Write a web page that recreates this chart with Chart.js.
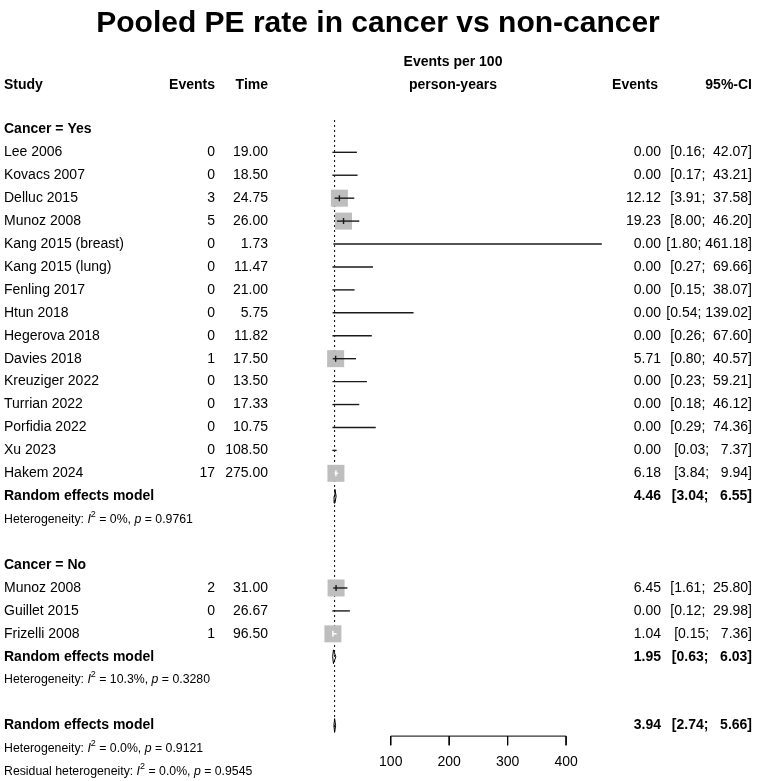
<!DOCTYPE html>
<html><head><meta charset="utf-8">
<script src="https://cdn.jsdelivr.net/npm/chart.js@4"></script>
<style>html,body{margin:0;padding:0;background:#fff}canvas{display:block}</style>
</head><body>
<canvas id="c" width="757" height="781"></canvas>
<script>
const chartTitle = "Pooled PE rate in cancer vs non-cancer";
// Cancer = Yes
const studiesYes = ["Lee 2006","Kovacs 2007","Delluc 2015","Munoz 2008","Kang 2015 (breast)","Kang 2015 (lung)","Fenling 2017","Htun 2018","Hegerova 2018","Davies 2018","Kreuziger 2022","Turrian 2022","Porfidia 2022","Xu 2023","Hakem 2024"];
const eventsYes = [0,0,3,5,0,0,0,0,0,1,0,0,0,0,17];
const timeYes = [19.00,18.50,24.75,26.00,1.73,11.47,21.00,5.75,11.82,17.50,13.50,17.33,10.75,108.50,275.00];
const rateYes = [0.00,0.00,12.12,19.23,0.00,0.00,0.00,0.00,0.00,5.71,0.00,0.00,0.00,0.00,6.18];
const lowerYes = [0.16,0.17,3.91,8.00,1.80,0.27,0.15,0.54,0.26,0.80,0.23,0.18,0.29,0.03,3.84];
const upperYes = [42.07,43.21,37.58,46.20,461.18,69.66,38.07,139.02,67.60,40.57,59.21,46.12,74.36,7.37,9.94];
// Cancer = No
const studiesNo = ["Munoz 2008","Guillet 2015","Frizelli 2008"];
const eventsNo = [2,0,1];
const timeNo = [31.00,26.67,96.50];
const rateNo = [6.45,0.00,1.04];
const lowerNo = [1.61,0.12,0.15];
const upperNo = [25.80,29.98,7.36];
// Pooled estimates [estimate, lower, upper]
const pooledYes = [4.46,3.04,6.55];
const pooledNo = [1.95,0.63,6.03];
const pooledAll = [3.94,2.74,5.66];
const hetYes = ["0%","0.9761"];
const hetNo = ["10.3%","0.3280"];
const hetAll = ["0.0%","0.9121"];
const hetResidual = ["0.0%","0.9545"];
const axisTicks = [100,200,300,400];

// row layout
const rowsYes = studiesYes.map((_, i) => i);
const rowYesPooled = studiesYes.length;           // 15
const rowNoStart = rowYesPooled + 4;              // 19
const rowsNo = studiesNo.map((_, i) => rowNoStart + i);
const rowNoPooled = rowNoStart + studiesNo.length; // 22
const rowAll = rowNoPooled + 3;                   // 25

const SQ = 17; // square side px
const datasets = [];
const base = {pointRadius:0, showLine:true, clip:false, borderColor:'#000', borderWidth:1};
// reference dotted line
datasets.push(Object.assign({}, base, {data:[{x:pooledAll[0],y:-1.41},{x:pooledAll[0],y:25.32}], borderDash:[2,3], order:10}));
// squares
const sqData = [];
function addStudies(rows, ev, rate, lo, hi){
  rows.forEach((r,i)=>{
    if (ev[i] > 0) sqData.push({x:rate[i], y:r});
    const est = rate[i], l = lo[i], h = hi[i];
    const col = (ctx)=>{
      const xs = ctx.chart.scales.x; const c = xs.getPixelForValue(est);
      const inside = ev[i] > 0 && xs.getPixelForValue(l) >= c - SQ/2 && xs.getPixelForValue(h) <= c + SQ/2;
      return inside ? '#ffffff' : '#1a1a1a';
    };
    datasets.push(Object.assign({}, base, {data:[{x:l,y:r},{x:h,y:r}], borderColor:col, borderWidth:1.4, order:2}));
    if (ev[i] > 0) datasets.push(Object.assign({}, base, {data:[{x:est,y:r-0.13},{x:est,y:r+0.13}], borderColor:col, borderWidth:1.4, order:1}));
  });
}
addStudies(rowsYes, eventsYes, rateYes, lowerYes, upperYes);
addStudies(rowsNo, eventsNo, rateNo, lowerNo, upperNo);
datasets.push({data:sqData, pointStyle:'rect', pointRadius:SQ/2/Math.SQRT1_2, pointHoverRadius:SQ/2/Math.SQRT1_2, backgroundColor:'#bebebe', borderWidth:0, showLine:false, clip:false, order:5});
// diamonds
function diamond(p, r){
  datasets.push(Object.assign({}, base, {data:[{x:p[1],y:r},{x:p[0],y:r-0.3},{x:p[2],y:r},{x:p[0],y:r+0.3},{x:p[1],y:r}], order:1}));
}
diamond(pooledYes, rowYesPooled); diamond(pooledNo, rowNoPooled); diamond(pooledAll, rowAll);
// axis
const axisRow = 25.46, tickEnd = 25.86;
datasets.push(Object.assign({}, base, {data:[{x:axisTicks[0],y:axisRow},{x:axisTicks[axisTicks.length-1],y:axisRow}], order:1}));
axisTicks.forEach(t=>datasets.push(Object.assign({}, base, {data:[{x:t,y:axisRow},{x:t,y:tickEnd}], order:1})));

const FF = "'Liberation Sans', Arial, sans-serif";
const f2 = v => v.toFixed(2);
function ciStr(l,h){
  let hs = f2(h); while (hs.length < 6) hs = ' ' + hs;
  return '[' + f2(l) + '; ' + hs + ']';
}

const textPlugin = {
  id:'forestText',
  afterDraw(chart){
    const ctx = chart.ctx, xs = chart.scales.x, ys = chart.scales.y;
    const Y = r => ys.getPixelForValue(r);
    ctx.save();
    ctx.fillStyle = '#000';
    ctx.textBaseline = 'middle';
    function t(s, x, r, align, font){ ctx.font = font; ctx.textAlign = align; ctx.fillText(s, x, Y(r)); }
    const N = '14px ' + FF, B = 'bold 14px ' + FF;
    // title
    t(chartTitle, 378, -5.6, 'center', 'bold 30px ' + FF);
    // headers
    t('Events per 100', 453, -3.94, 'center', B);
    t('Study', 4, -2.95, 'left', B);
    t('Events', 215, -2.95, 'right', B);
    t('Time', 268, -2.95, 'right', B);
    t('person-years', 453, -2.95, 'center', B);
    t('Events', 658, -2.95, 'right', B);
    t('95%-CI', 752, -2.95, 'right', B);
    function group(label, labelRow, names, rows, ev, tm, rate, lo, hi){
      t(label, 4, labelRow, 'left', B);
      rows.forEach((r,i)=>{
        t(names[i], 4, r, 'left', N);
        t(String(ev[i]), 215, r, 'right', N);
        t(f2(tm[i]), 268, r, 'right', N);
        t(f2(rate[i]), 661, r, 'right', N);
        t(ciStr(lo[i],hi[i]), 752, r, 'right', N);
      });
    }
    function pooledRow(p, r){
      t('Random effects model', 4, r, 'left', B);
      t(f2(p[0]), 661, r, 'right', B);
      t(ciStr(p[1],p[2]), 752, r, 'right', B);
    }
    function het(prefix, h, r){
      const S = '12.3px ' + FF, I = 'italic 12.3px ' + FF, SUP = '9px ' + FF;
      let x = 4; const y = Y(r);
      ctx.textAlign = 'left';
      const seg = (s, font, dy) => { ctx.font = font; ctx.fillText(s, x, y + (dy||0)); x += ctx.measureText(s).width; };
      seg(prefix + ': ', S); seg('I', I); seg('2', SUP, -5); seg(' = ' + h[0] + ', ', S); seg('p', I); seg(' = ' + h[1], S);
    }
    group('Cancer = Yes', -1, studiesYes, rowsYes, eventsYes, timeYes, rateYes, lowerYes, upperYes);
    pooledRow(pooledYes, rowYesPooled);
    het('Heterogeneity', hetYes, rowYesPooled + 1);
    group('Cancer = No', rowNoStart - 1, studiesNo, rowsNo, eventsNo, timeNo, rateNo, lowerNo, upperNo);
    pooledRow(pooledNo, rowNoPooled);
    het('Heterogeneity', hetNo, rowNoPooled + 1);
    pooledRow(pooledAll, rowAll);
    het('Heterogeneity', hetAll, rowAll + 1);
    het('Residual heterogeneity', hetResidual, rowAll + 2);
    // axis tick labels
    ctx.font = N; ctx.textAlign = 'center';
    axisTicks.forEach(v => ctx.fillText(String(v), xs.getPixelForValue(v), Y(26.6)));
    ctx.restore();
  }
};

new Chart(document.getElementById('c'), {
  type:'scatter',
  data:{datasets},
  options:{
    responsive:false, animation:false, events:[],
    layout:{autoPadding:false, padding:{left:332.3, right:15.6, top:0, bottom:0}},
    scales:{
      x:{type:'linear', min:0, max:700, display:false},
      y:{type:'linear', min:-6.642, max:27.418, reverse:true, display:false}
    },
    plugins:{legend:{display:false}, tooltip:{enabled:false}, title:{display:false}},
    elements:{line:{tension:0}}
  },
  plugins:[textPlugin]
});
</script>
</body></html>
